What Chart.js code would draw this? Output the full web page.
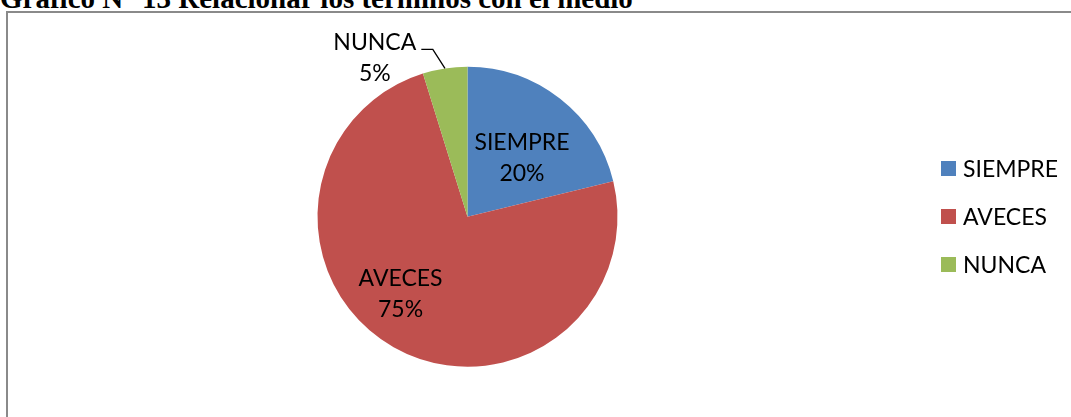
<!DOCTYPE html>
<html>
<head>
<meta charset="utf-8">
<script src="https://cdn.jsdelivr.net/npm/chart.js@4/dist/chart.umd.min.js"></script>
<style>
  html, body { margin: 0; padding: 0; background: #fff; }
  #wrap { position: relative; width: 1071px; height: 417px; overflow: hidden; }
  #title { position: absolute; left: 0; top: -16px; line-height: 1; font-family: "Liberation Serif", "Times New Roman", serif; font-weight: bold; font-size: 29px; white-space: nowrap; color: #000; }
  #frame { position: absolute; left: 6px; top: 11px; width: 1100px; height: 500px; border-left: 2px solid #8a8a8a; border-top: 2px solid #8a8a8a; }
  canvas { position: absolute; left: 0; top: 0; }
</style>
</head>
<body>
<div id="wrap">
  <div id="frame"></div>
  <div id="title">Gráfico N° 13 Relacionar los términos con el medio</div>
  <canvas id="c" width="1071" height="417"></canvas>
</div>
<script>
const categories = ["SIEMPRE", "AVECES", "NUNCA"];
const values = [21.2, 74.0, 4.8];
const percentLabels = ["20%", "75%", "5%"];
const colors = ["#4F81BD", "#C0504D", "#9BBB59"];

const FONT = '23px Lato, "Open Sans", sans-serif';

// label placement relative to each slice: radius fraction and angular shift (deg)
const labelPlacement = [
  { r: 0.534, da: 4.7, leader: false },
  { r: 0.68, da: 11.5, leader: false },
  { r: 1.227, da: -21.6, leader: true }
];

const labelPlugin = {
  id: 'sliceLabels',
  afterDatasetsDraw(chart) {
    const ctx = chart.ctx;
    const meta = chart.getDatasetMeta(0);
    ctx.save();
    ctx.font = FONT;
    ctx.fillStyle = '#000';
    ctx.textAlign = 'center';
    ctx.textBaseline = 'middle';
    meta.data.forEach((arc, i) => {
      const p = arc.getProps(['x', 'y', 'startAngle', 'endAngle', 'outerRadius'], true);
      const mid = (p.startAngle + p.endAngle) / 2;
      const pl = labelPlacement[i];
      const a = mid + pl.da * Math.PI / 180;
      const cx = p.x + Math.cos(a) * p.outerRadius * pl.r;
      const cy = p.y + Math.sin(a) * p.outerRadius * pl.r;
      ctx.fillText(categories[i], cx, cy - 15.5);
      ctx.fillText(percentLabels[i], cx, cy + 15.5);
      if (pl.leader) {
        const ex = p.x + Math.cos(mid) * p.outerRadius;
        const ey = p.y + Math.sin(mid) * p.outerRadius;
        ctx.beginPath();
        ctx.strokeStyle = '#000';
        ctx.lineWidth = 1.3;
        ctx.moveTo(ex, ey);
        ctx.lineTo(cx + 58, cy - 8.3);
        ctx.lineTo(cx + 46.5, cy - 8.3);
        ctx.stroke();
      }
    });
    ctx.restore();
  }
};

const legendPlugin = {
  id: 'sideLegend',
  afterDraw(chart) {
    const ctx = chart.ctx;
    ctx.save();
    ctx.font = FONT;
    ctx.textAlign = 'left';
    ctx.textBaseline = 'middle';
    const x0 = 941, y0 = 168.5, step = 48, box = 15;
    categories.forEach((name, i) => {
      const y = y0 + i * step;
      ctx.fillStyle = colors[i];
      ctx.fillRect(x0, y - box / 2, box, box);
      ctx.fillStyle = '#000';
      ctx.fillText(name, x0 + 22, y + 1);
    });
    ctx.restore();
  }
};

new Chart(document.getElementById('c'), {
  type: 'pie',
  data: {
    labels: categories,
    datasets: [{
      data: values,
      backgroundColor: colors,
      borderWidth: 0,
      hoverOffset: 0
    }]
  },
  options: {
    responsive: false,
    animation: false,
    events: [],
    layout: { padding: { left: 317.5, right: 453.5, top: 66.7, bottom: 50.3 } },
    plugins: {
      legend: { display: false },
      tooltip: { enabled: false },
      title: { display: false }
    }
  },
  plugins: [labelPlugin, legendPlugin]
});
</script>
</body>
</html>
